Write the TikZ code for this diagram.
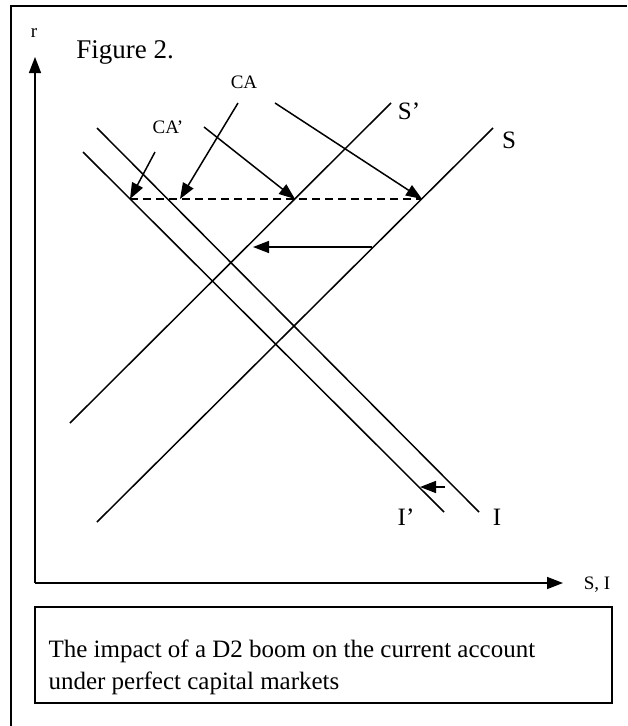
\documentclass[tikz,border=0pt]{standalone}
\usepackage{fontspec}
\setmainfont{Liberation Serif}
\usetikzlibrary{arrows.meta}

\tikzset{
  trait/.style={line width=1.5pt},
  fleche/.style={trait, -{Triangle[length=16pt, width=12pt]}},
  pointille/.style={trait, dash pattern=on 8pt off 5pt},
  grand/.style={font=\fontsize{25}{32}\selectfont},
  petit/.style={font=\fontsize{19}{22}\selectfont},
}

\begin{document}
\begin{tikzpicture}[x=1pt, y=-1pt]
    \useasboundingbox (0,0) rectangle (627,726);

    % Le cadre
    \draw[line width=2pt] (11,726) -- (11,6) -- (627,6);

    % Les axes
    \coordinate (O) at (35,583);
    \coordinate (Hy) at (35,57);
    \coordinate (Hx) at (563,583);
    \draw[fleche] (O) -- (Hy);
    \draw[fleche] (O) -- (Hx);
    \node[petit] (r) at (34,33) {r};
    \node[petit] (SI) at (597,585) {S, I};

    % Titre
    \node[grand, font=\fontsize{27}{32}\selectfont] (fig) at (125,52) {Figure 2.};

    % Les droites S et S'
    \draw[trait] (70,423) -- (391,103);
    \draw[trait] (97,522) -- (493,128);
    \node[grand] (Sp) at (409,111) {S'};
    \node[grand] (S) at (509,140) {S};

    % Les droites I et I'
    \draw[trait] (97,128) -- (479,512);
    \draw[trait] (83,152) -- (444,512);
    \node[grand] (Ip) at (406,517) {I'};
    \node[grand] (I) at (497,517) {I};

    % Le taux mondial (pointilles)
    \coordinate (A) at (130,199);
    \coordinate (B) at (180,199);
    \coordinate (C) at (295,199);
    \coordinate (D) at (422,199);
    \draw[pointille] (A) -- (D);

    % CA'
    \node[petit] (cap) at (168,127) {CA'};
    \draw[fleche] (155,152) -- (A);
    \draw[fleche] (204,127) -- (C);

    % CA
    \node[petit] (ca) at (244,82) {CA};
    \draw[fleche] (238,103) -- (B);
    \draw[fleche] (275,103) -- (D);

    % Les deplacements
    \coordinate (s1) at (372,247);
    \coordinate (s2) at (253,247);
    \draw[fleche] (s1) -- (s2);
    \coordinate (i1) at (445,487);
    \coordinate (i2) at (420,487);
    \draw[fleche] (i1) -- (i2);

    % La legende
    \draw[line width=1.6pt] (35,607) rectangle (612,703);
    \node[grand, anchor=west, align=left] (leg) at (45,667)
        {The impact of a D2 boom on the current account\\under perfect capital markets};
\end{tikzpicture}
\end{document}
